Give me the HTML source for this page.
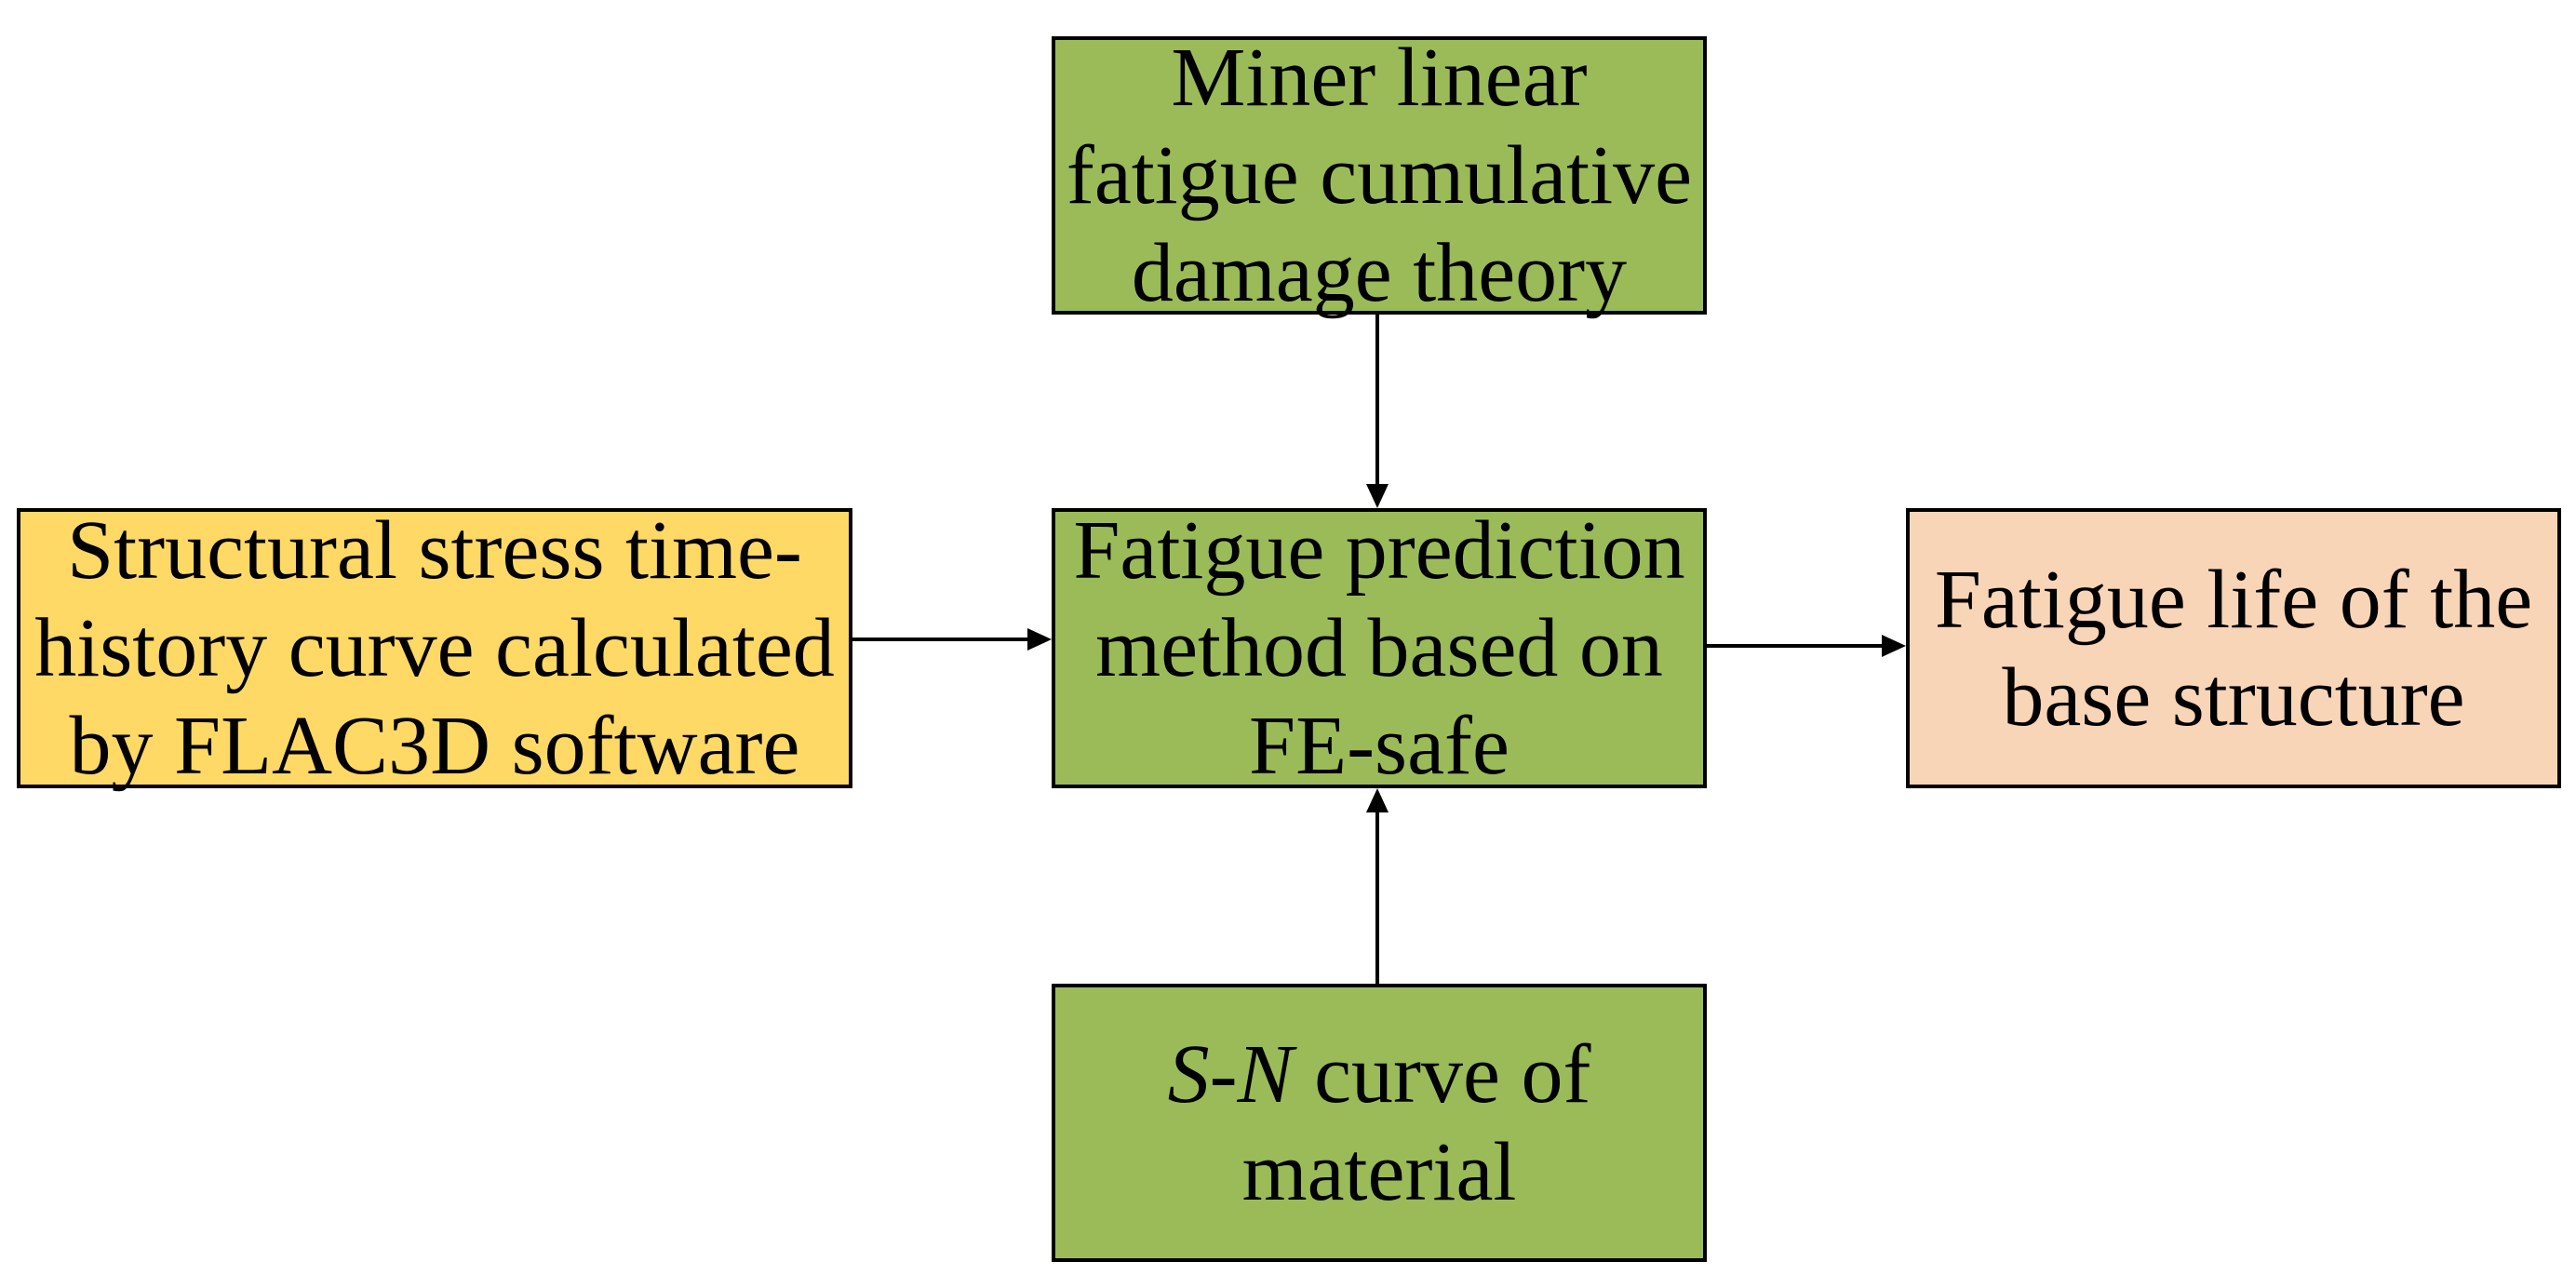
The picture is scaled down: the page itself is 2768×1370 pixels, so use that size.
<!DOCTYPE html>
<html><head><meta charset="utf-8"><style>
html,body{margin:0;padding:0;background:#fff;}
body{width:2768px;height:1370px;position:relative;overflow:hidden;font-family:"Liberation Serif",serif;}
.b{position:absolute;box-sizing:border-box;border:4px solid #000;display:flex;align-items:center;justify-content:center;text-align:center;font-size:90px;line-height:105px;color:#000;white-space:nowrap;}
.g{background:#9BBB59;}
svg{position:absolute;left:0;top:0;}
</style></head><body>
<div class="b" style="left:18px;top:546px;width:898px;height:301px;background:#FFD966;">Structural stress time-<br>history curve calculated<br>by FLAC3D software</div>
<div class="b g" style="left:1130px;top:39px;width:704px;height:299px;">Miner linear<br>fatigue cumulative<br>damage theory</div>
<div class="b g" style="left:1130px;top:546px;width:704px;height:301px;">Fatigue prediction<br>method based on<br>FE-safe</div>
<div class="b g" style="left:1130px;top:1057px;width:704px;height:299px;"><span><i>S</i>-<i>N</i> curve of<br>material</span></div>
<div class="b" style="left:2048px;top:546px;width:704px;height:301px;background:#F9D5B8;">Fatigue life of the<br>base structure</div>
<svg width="2768" height="1370">
<g stroke="#000" stroke-width="4" fill="none">
<line x1="1480" y1="338" x2="1480" y2="522"/>
<line x1="1480" y1="1057" x2="1480" y2="871"/>
<line x1="916" y1="687" x2="1106" y2="687"/>
<line x1="1834" y1="694" x2="2024" y2="694"/>
</g>
<g fill="#000">
<polygon points="1468,520 1492,520 1480,546"/>
<polygon points="1468,873 1492,873 1480,847"/>
<polygon points="1104,675 1104,699 1130,687"/>
<polygon points="2022,682 2022,706 2048,694"/>
</g>
</svg>
</body></html>
